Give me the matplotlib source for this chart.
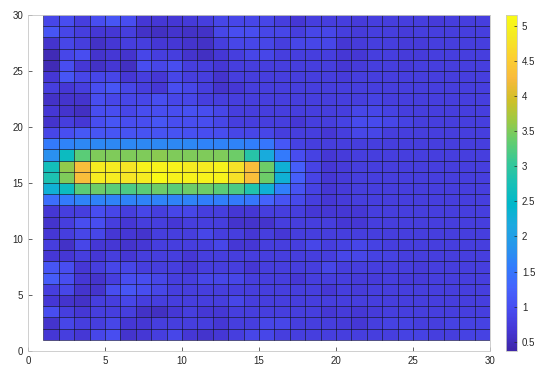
import numpy as np
import matplotlib
matplotlib.use("Agg")
import matplotlib.pyplot as plt
from matplotlib.colors import LinearSegmentedColormap

plt.rcParams["font.family"] = ["Liberation Sans", "DejaVu Sans"]

# cell values, top row (y=29..30) first, columns x=1..29
z_rows = [
    [0.88,0.98,0.78,0.98,1.08,0.98,0.68,0.68,0.68,0.72, 0.78,0.88,0.88,0.88,0.88,0.78,0.68,0.78,0.78, 0.78,0.74,0.78,0.78,0.78,0.78,0.74,0.78,0.78,0.78],
    [1.08,0.88,0.78,0.68,0.68,0.78,0.58,0.54,0.62,0.58, 0.58,0.88,0.98,0.98,0.88,0.88,0.78,0.88,0.88, 0.78,0.74,0.78,0.78,0.74,0.78,0.78,0.78,0.78,0.78],
    [0.62,0.88,0.78,0.58,0.68,0.78,0.78,0.68,0.68,0.62, 0.58,0.78,0.88,0.88,0.88,0.78,0.88,0.88,0.88, 0.68,0.74,0.78,0.78,0.74,0.74,0.78,0.78,0.78,0.78],
    [0.48,0.88,0.98,0.62,0.68,0.62,0.88,0.78,0.78,0.62, 0.54,0.68,0.78,0.88,0.88,0.78,0.78,0.78,0.78, 0.68,0.68,0.78,0.78,0.74,0.74,0.78,0.78,0.78,0.78],
    [0.48,0.98,0.68,0.58,0.68,0.54,0.98,0.88,0.98,0.78, 0.78,0.68,0.78,0.78,0.78,0.78,0.78,0.78,0.78, 0.68,0.74,0.78,0.78,0.74,0.78,0.78,0.78,0.78,0.78],
    [0.68,1.08,0.88,0.88,0.88,0.68,0.78,0.68,0.88,0.78, 0.78,0.62,0.78,0.78,0.78,0.78,0.78,0.78,0.78, 0.74,0.78,0.78,0.78,0.78,0.78,0.78,0.78,0.78,0.78],
    [0.78,0.68,0.78,0.98,1.08,0.88,0.78,0.68,0.98,0.88, 0.78,0.62,0.68,0.78,0.78,0.78,0.78,0.78,0.78] + [0.78] * 10,
    [0.58,0.62,0.62,0.98,0.88,0.88,0.88,0.98,0.88,0.88] + [0.78] * 11 + [0.82] + [0.78] * 7,
    [0.68,0.62,0.54,0.98,0.98,0.88,0.98,0.98,0.98,1.02, 0.98,0.88] + [0.78] * 8 + [0.88,0.88,0.82] + [0.78] * 6,
    [0.62,0.78,0.68,0.98,1.08,0.98,0.98,1.08,0.98,0.98, 0.98,0.88,0.78,0.78,0.78,0.78,0.68,0.78,0.78, 0.82,0.94,0.94,0.88,0.82] + [0.78] * 5,
    [0.88,1.0,1.12,1.08,1.08,1.05,1.05,1.05,1.05,1.02, 0.98,0.98,0.88,0.88,0.88,0.78,0.78,0.78,0.68, 0.78,0.88,0.88] + [0.78] * 7,
    [1.55,1.65,1.7,1.7,1.7,1.7,1.7,1.7,1.7,1.7, 1.65,1.65,1.65,1.6,1.5,1.1,0.82,0.78,0.78] + [0.78] * 10,
    [1.8,2.6,3.3,3.5,3.5,3.5,3.5,3.55,3.5,3.5, 3.5,3.5,3.4,2.9,2.2,1.55,0.98,0.82,0.68, 0.74] + [0.78] * 9,
    [2.7,3.6,4.3,4.9,4.9,4.8,5.0,5.0,5.0,4.9, 4.9,5.0,4.75,4.3,3.4,2.3,1.2,0.85,0.68, 0.74] + [0.78] * 9,
    [2.8,3.5,4.3,4.9,4.9,4.8,4.9,5.1,5.0,5.0, 5.0,5.0,4.75,4.3,3.4,2.3,1.2,0.85,0.68, 0.74] + [0.78] * 9,
    [2.3,2.6,3.3,3.4,3.3,3.2,3.3,3.4,3.3,3.4, 3.4,3.3,3.2,2.85,2.3,1.6,1.05,0.82,0.68, 0.74] + [0.78] * 9,
    [1.4,1.55,1.65,1.65,1.65,1.65,1.65,1.65,1.65,1.65, 1.6,1.6,1.55,1.5,1.25,1.05,0.92,0.78,0.68, 0.74] + [0.78] * 9,
    [0.68,0.78,0.78,0.98,0.88,0.78,0.88,0.78,0.88,0.88, 0.78,0.78,0.68,0.68,0.78,0.78,0.78,0.68,0.68,0.68, 0.68] + [0.78] * 8,
    [0.62,0.78,0.98,0.98,0.78,0.68,0.78,0.78,0.68,0.78, 0.78,0.78,0.62,0.62,0.62,0.78,0.78,0.78,0.78,0.68, 0.68] + [0.78] * 8,
    [0.68,0.78,0.88,0.88,0.68,0.68,0.62,0.78,0.78,0.78, 0.88,0.78,0.78,0.68,0.78,0.68,0.78,0.78,0.78,0.78] + [0.78] * 9,
    [0.78,0.58,0.88,0.68,0.68,0.62,0.68,0.78,0.78,0.78, 0.78,0.88,0.68,0.68,0.78,0.78,0.78,0.88,0.78,0.82, 0.88,0.82] + [0.78] * 7,
    [0.68,0.68,0.78,0.68,0.78,0.68,0.78,0.78,0.78,0.68] + [0.78] * 9 + [0.88, 0.88,0.82,0.82] + [0.78] * 6,
    [1.08,0.98,0.68,0.78,0.88,0.88,0.78,0.78,0.78,0.68, 0.78,0.78,0.78,0.68,0.78,0.78,0.78,0.78,0.88,0.78, 0.78,0.78,0.78,0.78,0.74,0.78,0.78,0.78,0.78],
    [1.18,0.98,0.68,0.62,0.78,0.98,0.98,0.88,0.78,0.78, 0.88,0.88,0.88,0.78,0.78,0.78,0.68,0.78,0.78,0.78, 0.74,0.74,0.78,0.74,0.74,0.78,0.78,0.78,0.78],
    [0.78,0.88,0.62,0.62,0.98,1.08,0.98,0.88,0.78,0.78] + [0.78] * 8 + [0.68,0.78, 0.74] + [0.78] * 8,
    [0.68,0.62,0.58,0.78,0.78,0.88,0.78,0.78,0.78,0.78, 0.78,0.78,0.88] + [0.78] * 16,
    [0.98,0.78,0.68,0.78,0.78,0.78,0.58,0.54,0.68,0.78, 0.68,0.68] + [0.78] * 6 + [0.68,0.74, 0.68,0.74] + [0.78] * 7,
    [0.62,0.88,0.78,0.78,0.88,0.68,0.68,0.78,0.78,0.78, 0.78,0.68,0.78,0.78,0.88,0.88,0.78,0.78,0.78,0.74, 0.68,0.78,0.82,0.82,0.78,0.78,0.82,0.82,0.82],
    [0.68,0.78,0.68,0.88,0.98,0.62,0.68,0.78,0.88,0.68, 0.62,0.68,0.78,0.88,0.88] + [0.78] * 5 + [0.78,0.78,0.78,0.82,0.82,0.78,0.78,0.82,0.82],
]
x_edges = np.arange(1, 31)
y_edges = np.arange(1, 31)
x_ticks = [0, 5, 10, 15, 20, 25, 30]
y_ticks = [0, 5, 10, 15, 20, 25, 30]
cbar_ticks = [0.5, 1, 1.5, 2, 2.5, 3, 3.5, 4, 4.5, 5]

# parula-like colormap
parula_pts = [
    (0.2422, 0.1504, 0.6603), (0.2706, 0.2147, 0.8364), (0.2813, 0.3006, 0.9414),
    (0.2699, 0.3892, 0.9906), (0.1963, 0.4847, 0.9892), (0.1540, 0.5902, 0.9218),
    (0.1113, 0.6635, 0.8763), (0.0036, 0.7203, 0.7917), (0.0964, 0.7500, 0.7120),
    (0.2161, 0.7843, 0.5923), (0.3909, 0.8029, 0.4354), (0.6174, 0.7876, 0.2612),
    (0.8203, 0.7498, 0.1535), (0.9728, 0.7298, 0.2394), (0.9892, 0.8136, 0.1885),
    (0.9597, 0.9135, 0.1423), (0.9769, 0.9839, 0.0805),
]
parula = LinearSegmentedColormap.from_list("parula", parula_pts, N=256)

z = np.array(z_rows)[::-1]

fig = plt.figure(figsize=(5.46, 3.78), dpi=100)
ax = fig.add_axes([28/546, 27/378, 462/546, 336/378])
mesh = ax.pcolormesh(x_edges, y_edges, z, cmap=parula, vmin=0.37, vmax=5.15,
                     edgecolors=(0, 0, 0.08, 0.75), linewidth=0.45, antialiased=True)
ax.set_xlim(0, 30)
ax.set_ylim(0, 30)
ax.set_xticks(x_ticks)
ax.set_yticks(y_ticks)
ax.tick_params(direction="in", labelsize=7, length=3, width=0.5, colors="#262626")
for s in ax.spines.values():
    s.set_color("#c8c8c8")
    s.set_linewidth(0.6)

cax = fig.add_axes([506/546, 27/378, 11/546, 336/378])
cb = fig.colorbar(mesh, cax=cax, ticks=cbar_ticks)
cb.ax.set_yticklabels([f"{t:g}" for t in cbar_ticks])
cb.ax.tick_params(direction="in", labelsize=7, length=2.5, width=0.5, colors="#262626")
cb.outline.set_edgecolor("#c8c8c8")
cb.outline.set_linewidth(0.6)

fig.savefig("out.png", dpi=100)
